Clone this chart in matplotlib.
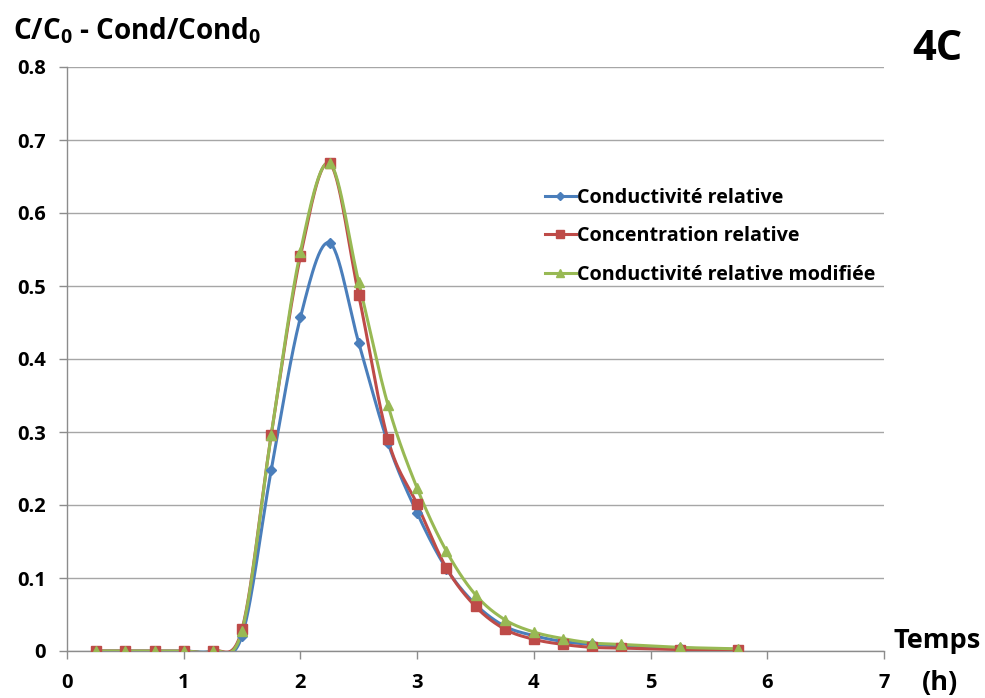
import numpy as np
import matplotlib
matplotlib.use("Agg")
import matplotlib.pyplot as plt
from matplotlib.lines import Line2D

plt.rcParams['font.family'] = ['Open Sans', 'DejaVu Sans']
plt.rcParams['font.weight'] = 'bold'
plt.rcParams['mathtext.fontset'] = 'custom'
plt.rcParams['mathtext.rm'] = 'Open Sans:bold'
plt.rcParams['mathtext.it'] = 'Open Sans:bold'
plt.rcParams['mathtext.bf'] = 'Open Sans:bold'

# ---- data ----
temps = [0.25, 0.5, 0.75, 1.0, 1.25, 1.5, 1.75, 2.0, 2.25, 2.5, 2.75, 3.0,
         3.25, 3.5, 3.75, 4.0, 4.25, 4.5, 4.75, 5.25, 5.75]
cond_rel = [0, 0, 0, 0, 0, 0.021, 0.248, 0.457, 0.559, 0.422, 0.285, 0.189,
            0.113, 0.064, 0.034, 0.021, 0.013, 0.009, 0.007, 0.004, 0.002]
conc_rel = [0, 0, 0, 0, 0, 0.030, 0.296, 0.541, 0.668, 0.487, 0.290, 0.201,
            0.114, 0.061, 0.030, 0.016, 0.009, 0.005, 0.004, 0.002, 0.002]
cond_mod = [0, 0, 0, 0, 0, 0.028, 0.296, 0.547, 0.668, 0.505, 0.337, 0.223,
            0.137, 0.077, 0.043, 0.026, 0.017, 0.011, 0.009, 0.005, 0.003]
labels = ["Conductivité relative", "Concentration relative",
          "Conductivité relative modifiée"]
colors = ["#4a7ebb", "#be4b48", "#98b954"]
markers = ["D", "s", "^"]
msizes = [5, 7, 7.5]


def excel_smooth(x, y, n=30):
    x = np.asarray(x, float)
    y = np.asarray(y, float)
    P = np.column_stack([x, y])
    out = []
    for i in range(len(P) - 1):
        p0 = P[i - 1] if i > 0 else P[i]
        p1 = P[i]
        p2 = P[i + 1]
        p3 = P[i + 2] if i + 2 < len(P) else P[i + 1]
        c1 = p1 + (p2 - p0) / 6.0
        c2 = p2 - (p3 - p1) / 6.0
        t = np.linspace(0, 1, n)[:, None]
        seg = ((1 - t) ** 3) * p1 + 3 * ((1 - t) ** 2) * t * c1 + 3 * (1 - t) * t ** 2 * c2 + t ** 3 * p2
        out.append(seg if i == 0 else seg[1:])
    out = np.vstack(out)
    return out[:, 0], out[:, 1]


fig = plt.figure(figsize=(9.85, 6.98), dpi=100)
ax = fig.add_axes([67 / 985, 1 - 651 / 698, 817 / 985, (651 - 67) / 698])

series = [cond_rel, conc_rel, cond_mod]
handles = []
for vals, lab, col, mk, ms in zip(series, labels, colors, markers, msizes):
    sx, sy = excel_smooth(temps, vals)
    ax.plot(sx, sy, color=col, lw=2.2, solid_capstyle='round', zorder=3)
    ax.plot(temps, vals, linestyle='none', marker=mk, color=col, ms=ms, zorder=4)
    handles.append(Line2D([], [], color=col, lw=2.2, marker=mk, ms=ms * 0.8))

ax.set_xlim(0, 7)
ax.set_ylim(0, 0.8)
ax.set_xticks(range(0, 8))
ax.set_yticks(np.arange(0, 0.81, 0.1))
ax.set_yticklabels(["0" if abs(v) < 1e-9 else f"{v:.1f}" for v in np.arange(0, 0.81, 0.1)])
ax.yaxis.grid(True, color="#a6a6a6", lw=1.0)
ax.set_axisbelow(True)
for s in ["top", "right"]:
    ax.spines[s].set_visible(False)
for s in ["left", "bottom"]:
    ax.spines[s].set_color("#8c8c8c")
    ax.spines[s].set_linewidth(1.0)
ax.tick_params(axis='both', direction='out', length=6, width=1.0, color="#8c8c8c",
               labelsize=14.5)
ax.tick_params(axis='y', pad=9)
ax.tick_params(axis='x', pad=10)
for lbl in ax.get_xticklabels() + ax.get_yticklabels():
    lbl.set_fontweight('bold')

leg = ax.legend(handles, labels, loc='upper left', bbox_to_anchor=(0.585, 0.793),
                frameon=False, fontsize=14.2, handlelength=1.55, handletextpad=0.1,
                labelspacing=0.93, borderaxespad=0, borderpad=0)
for t in leg.get_texts():
    t.set_fontweight('bold')

fig.text(13 / 985, 1 - 31 / 698, r"C/C$_\mathrm{0}$ - Cond/Cond$_\mathrm{0}$",
         fontsize=20, fontweight='bold', ha='left', va='center')
fig.text(937 / 985, 1 - 50 / 698, "4C", fontsize=30, fontweight='bold',
         ha='center', va='center')
fig.text(937 / 985, 1 - 641 / 698, "Temps", fontsize=19.5, fontweight='bold',
         ha='center', va='center')
fig.text(940 / 985, 1 - 683 / 698, "(h)", fontsize=19.5, fontweight='bold',
         ha='center', va='center')

fig.savefig("out.png", dpi=100)
